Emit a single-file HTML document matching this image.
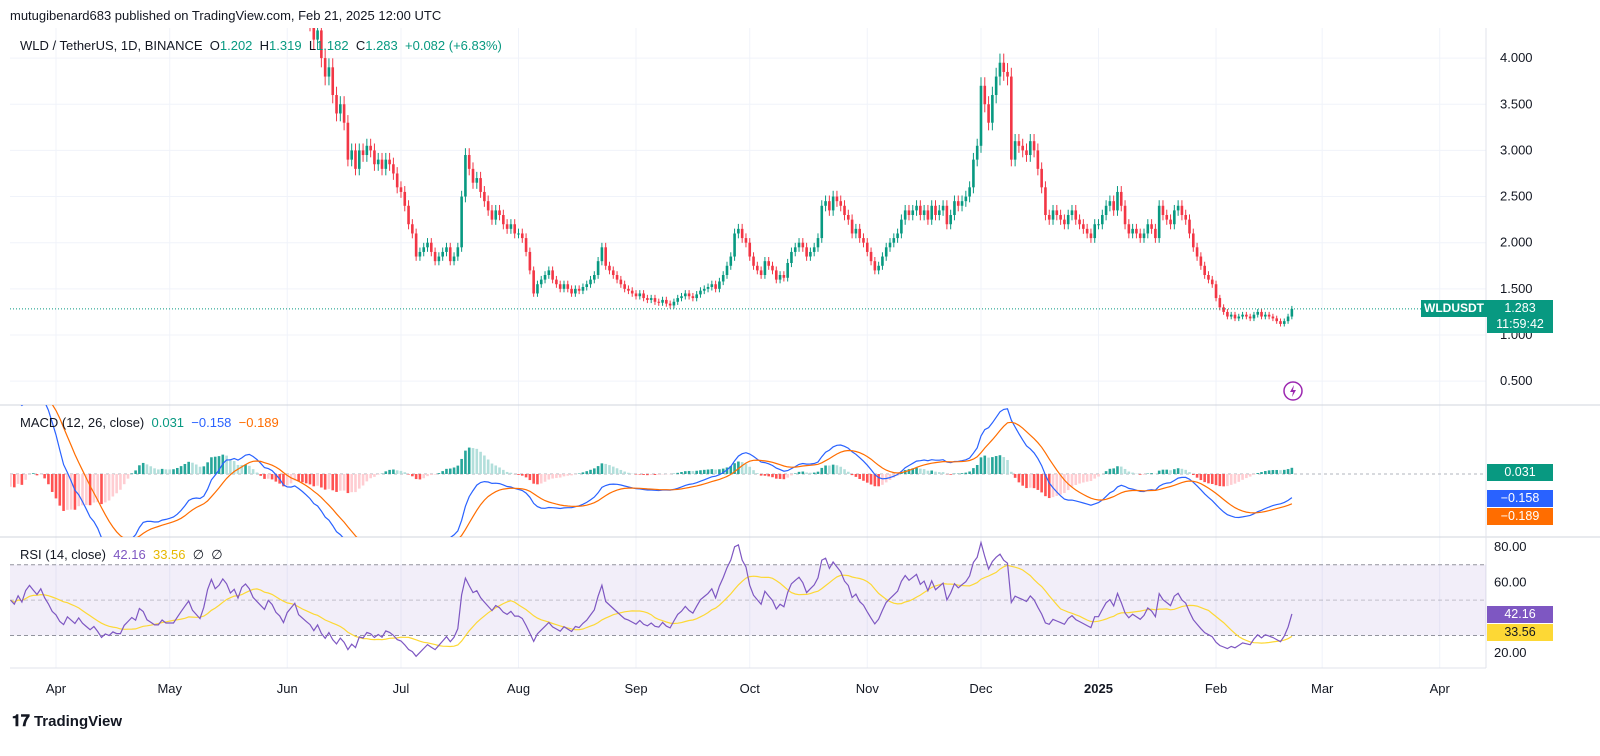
<!DOCTYPE html>
<html><head><meta charset="utf-8">
<style>
body{margin:0;width:1600px;height:756px;background:#fff;font-family:"Liberation Sans",sans-serif;overflow:hidden;position:relative}
.t{position:absolute;font-size:13px;color:#131722;white-space:nowrap}
.box{position:absolute;color:#fff;font-size:12.5px;text-align:center;line-height:17px}
</style></head><body>
<div class="t" style="left:10px;top:8px">mutugibenard683 published on TradingView.com, Feb 21, 2025 12:00 UTC</div>
<svg id="chart" width="1600" height="756" style="position:absolute;left:0;top:0"></svg>
<div class="t" style="left:20px;top:38px">WLD / TetherUS, 1D, BINANCE&nbsp; O<span style="color:#089981">1.202</span>&nbsp; H<span style="color:#089981">1.319</span>&nbsp; L<span style="color:#089981">1.182</span>&nbsp; C<span style="color:#089981">1.283</span>&nbsp; <span style="color:#089981">+0.082 (+6.83%)</span></div>
<div class="t" style="left:20px;top:415px">MACD (12, 26, close)&nbsp; <span style="color:#089981">0.031</span>&nbsp; <span style="color:#2962ff">−0.158</span>&nbsp; <span style="color:#ff6d00">−0.189</span></div>
<div class="t" style="left:20px;top:547px">RSI (14, close)&nbsp; <span style="color:#7e57c2">42.16</span>&nbsp; <span style="color:#e6b800">33.56</span>&nbsp; ∅&nbsp; ∅</div>
<div class="box" style="left:1421px;top:300px;width:66px;background:#089981;font-weight:bold;font-size:12px">WLDUSDT</div>
<div class="box" style="left:1487px;top:300px;width:66px;height:33px;background:#089981;line-height:16px">1.283<br>11:59:42</div>
<div class="box" style="left:1487px;top:464px;width:66px;background:#089981">0.031</div>
<div class="box" style="left:1487px;top:490px;width:66px;background:#2962ff">−0.158</div>
<div class="box" style="left:1487px;top:508px;width:66px;background:#ff6d00">−0.189</div>
<div class="box" style="left:1487px;top:606px;width:66px;background:#7e57c2">42.16</div>
<div class="box" style="left:1487px;top:624px;width:66px;background:#fdd835;color:#131722">33.56</div>
<div class="t" style="left:12px;top:713px;font-size:15px;font-weight:bold"><span style="font-size:16px">𝟏𝟕</span> TradingView</div>
<script>
const closesMar=[7.0,6.8,7.2,6.9,7.5,7.8,7.6,7.4,7.7,7.3,7.0,6.6];
const closesApr=[6.4,6.0,5.8,6.1,5.9,5.7,5.9,5.6,5.4,5.2,5.3,5.0,4.6,4.7,4.6,4.7,4.6,4.6,4.8,4.9,5.0,4.9,5.2,5.1,4.8,4.7,4.6,4.6,4.7,4.6];
const closesMay=[4.6,4.6,4.7,4.8,4.9,5.0,4.8,4.7,4.6,4.8,5.2,5.5,5.3,5.4,5.6,5.5,5.3,5.4,5.2,5.5,5.6,5.5,5.3,5.2,5.1,5.0,5.2,5.1,4.9,4.8,4.6];
const closesJun=[4.8,4.9,5.0,4.7,4.6,4.5,4.4,4.2,4.3,4.0,3.8,3.9,3.6,3.4,3.5,3.3,2.9,3.0,2.8,3.0,2.95,3.05,3.0,2.85,2.9,2.8,2.9,2.85,2.75,2.6];
const closesJul=[2.55,2.4,2.2,2.1,1.85,1.9,1.95,2.0,1.9,1.8,1.85,1.9,1.95,1.8,1.85,1.95,2.5,2.95,2.8,2.65,2.7,2.55,2.45,2.35,2.25,2.35,2.3,2.2,2.15,2.2,2.1];
const closesAug=[2.1,2.05,1.9,1.7,1.45,1.55,1.6,1.65,1.7,1.6,1.55,1.5,1.55,1.5,1.45,1.5,1.48,1.52,1.55,1.6,1.65,1.8,1.95,1.75,1.7,1.65,1.6,1.55,1.5,1.48,1.45];
const closesSep=[1.42,1.45,1.4,1.38,1.4,1.36,1.35,1.38,1.34,1.32,1.36,1.4,1.42,1.45,1.42,1.4,1.44,1.48,1.5,1.52,1.55,1.5,1.58,1.65,1.75,1.85,2.1,2.15,2.05,2.0];
const closesOct=[1.85,1.75,1.7,1.65,1.8,1.75,1.7,1.6,1.65,1.62,1.78,1.9,1.95,2.0,1.95,1.85,1.9,1.95,2.05,2.4,2.45,2.35,2.5,2.45,2.4,2.3,2.25,2.1,2.15,2.05,2.0];
const closesNov=[1.9,1.8,1.7,1.75,1.85,1.95,2.0,2.05,2.1,2.25,2.35,2.3,2.35,2.4,2.3,2.35,2.25,2.4,2.3,2.35,2.4,2.2,2.3,2.45,2.4,2.45,2.5,2.6,2.9,3.05];
const closesDec=[3.7,3.5,3.3,3.6,3.8,3.95,3.85,3.8,2.9,3.1,3.05,3.0,2.95,3.1,3.0,2.8,2.6,2.3,2.25,2.35,2.3,2.25,2.2,2.3,2.35,2.25,2.2,2.15,2.1,2.05,2.2];
const closesJan=[2.2,2.3,2.4,2.45,2.35,2.55,2.4,2.2,2.1,2.15,2.1,2.05,2.1,2.2,2.15,2.05,2.4,2.3,2.25,2.2,2.35,2.4,2.3,2.25,2.1,1.95,1.85,1.75,1.65,1.6,1.55];
const closesFeb=[1.4,1.3,1.25,1.2,1.22,1.18,1.2,1.22,1.2,1.18,1.22,1.25,1.2,1.22,1.2,1.18,1.15,1.12,1.15,1.2,1.283];
const priorEma=[6.6,6.1,0.6];
const priceTicks=["4.000","3.500","3.000","2.500","2.000","1.500","1.000","0.500"];
const rsiTicks=["80.00","60.00","20.00"];
const monthLabels=["Apr","May","Jun","Jul","Aug","Sep","Oct","Nov","Dec","2025","Feb","Mar","Apr"];
const monthDayOffsets=[12,42,73,103,134,165,195,226,256,287,318,346,377];

const closes=[].concat(closesMar,closesApr,closesMay,closesJun,closesJul,closesAug,closesSep,closesOct,closesNov,closesDec,closesJan,closesFeb);
const svg=document.getElementById('chart');const NS='http://www.w3.org/2000/svg';
function el(tag,attrs,parent){const e=document.createElementNS(NS,tag);for(const k in attrs)e.setAttribute(k,attrs[k]);(parent||svg).appendChild(e);return e;}
const X0=10.5,DX=3.791,L=10,R=1486;
const xs=i=>X0+i*DX;
const py=p=>335-(p-1)*92.3;
const my=v=>474-v*152;
const ry=v=>547+(80-v)*1.77;
const defs=el('defs',{});
[['cp',28,405],['cm',405,537],['cr',537,668]].forEach(([id,a,b])=>{const c=el('clipPath',{id},defs);el('rect',{x:L,y:a,width:R-L,height:b-a},c);});
monthDayOffsets.forEach((d,i)=>{const g=el('line',{x1:xs(d),x2:xs(d),y1:28,y2:668,stroke:'#f0f3fa'});


const t=el('text',{x:xs(d),y:693,'text-anchor':'middle','font-size':13,fill:'#131722','font-weight':monthLabels[i]==='2025'?'bold':'normal'});t.textContent=monthLabels[i];

});
priceTicks.forEach(s=>{const y=py(parseFloat(s));el('line',{x1:L,x2:R,y1:y,y2:y,stroke:'#f0f3fa'});const t=el('text',{x:1500,y:y+4,'font-size':13,fill:'#131722'});t.textContent=s;

});
rsiTicks.forEach(s=>{const y=ry(parseFloat(s));const t=el('text',{x:1494,y:y+4,'font-size':13,fill:'#131722'});t.textContent=s;

});
el('line',{x1:0,x2:1600,y1:405,y2:405,stroke:'#d1d4dc'});el('line',{x1:0,x2:1600,y1:537,y2:537,stroke:'#d1d4dc'});
el('line',{x1:L,x2:R,y1:668,y2:668,stroke:'#e0e3eb'});el('line',{x1:R,x2:R,y1:28,y2:668,stroke:'#e0e3eb'});
const gp=el('g',{'clip-path':'url(#cp)'});
closes.forEach((c,i)=>{const o=i?closes[i-1]:c;const up=c>=o;const col=up?'#089981':'#f23645';const x=xs(i);
const hi=Math.max(o,c)*1.025,lo=Math.min(o,c)*0.975;
const w=el('line',{x1:x,x2:x,y1:py(hi),y2:py(lo),stroke:col,'stroke-width':1},gp);


const b=el('rect',{x:x-1.3,width:2.6,y:py(Math.max(o,c)),height:Math.max(1,Math.abs(py(o)-py(c))),fill:col},gp);

});
const last=closes[closes.length-1];
el('line',{x1:L,x2:R,y1:py(last),y2:py(last),stroke:'#089981','stroke-dasharray':'1 2'});
const ic=el('circle',{cx:1293,cy:391,r:9,fill:'none',stroke:'#9c27b0','stroke-width':1.5});


el('path',{d:'M1294 385 L1290 392 L1293 392 L1292 397 L1296 390 L1293 390 Z',fill:'#9c27b0'});
function ema(a,n,seed){const k=2/(n+1);let r=[],p=seed;a.forEach(v=>{p=v*k+p*(1-k);r.push(p);});return r;}
const e12=ema(closes,12,priorEma[0]),e26=ema(closes,26,priorEma[1]);const macd=e12.map((v,i)=>v-e26[i]);const sig=ema(macd,9,priorEma[2]);const hist=macd.map((v,i)=>v-sig[i]);
const gm=el('g',{'clip-path':'url(#cm)'});
el('line',{x1:L,x2:R,y1:474,y2:474,stroke:'#b2b5be','stroke-dasharray':'3 3'},gm);
hist.forEach((h,i)=>{const prev=i?hist[i-1]:h;const col=h>=0?(h>=prev?'#26a69a':'#b2dfdb'):(h<prev?'#ff5252':'#ffcdd2');
const r=el('rect',{x:xs(i)-1.3,width:2.6,y:Math.min(my(h),474),height:Math.abs(my(h)-474),fill:col},gm);

});
const line=(arr,f,col,g,name)=>{const p=el('path',{d:arr.map((v,i)=>(i?'L':'M')+xs(i).toFixed(1)+' '+f(v).toFixed(1)).join(''),fill:'none',stroke:col,'stroke-width':1.2},g);

};
line(macd,my,'#2962ff',gm,'macd-line');line(sig,my,'#ff6d00',gm,'signal-line');
// RSI (Wilder), seeded with average absolute change of first 14 days
let seed=0;for(let i=1;i<=14;i++)seed+=Math.abs(closes[i]-closes[i-1])/14;
let ag=seed/2,al=seed/2,rsi=[];
closes.forEach((c,i)=>{if(!i){rsi.push(50);return;}const d=c-closes[i-1];const g=Math.max(d,0),l=Math.max(-d,0);
ag=(ag*13+g)/14;al=(al*13+l)/14;rsi.push(al===0?100:100-100/(1+ag/al));});
const rma=rsi.map((v,i)=>{const s=rsi.slice(Math.max(0,i-13),i+1);return s.reduce((a,b)=>a+b,0)/s.length;});
const gr=el('g',{'clip-path':'url(#cr)'});
el('rect',{x:L,width:R-L,y:ry(70),height:ry(30)-ry(70),fill:'rgba(126,87,194,0.1)'},gr);
[70,50,30].forEach(v=>el('line',{x1:L,x2:R,y1:ry(v),y2:ry(v),stroke:'#787b86','stroke-dasharray':'4 3','stroke-opacity':v===50?0.4:0.8},gr));
line(rma,ry,'#fdd835',gr,'rsi-ma-line');line(rsi,ry,'#7e57c2',gr,'rsi-line');
</script>
</body></html>
